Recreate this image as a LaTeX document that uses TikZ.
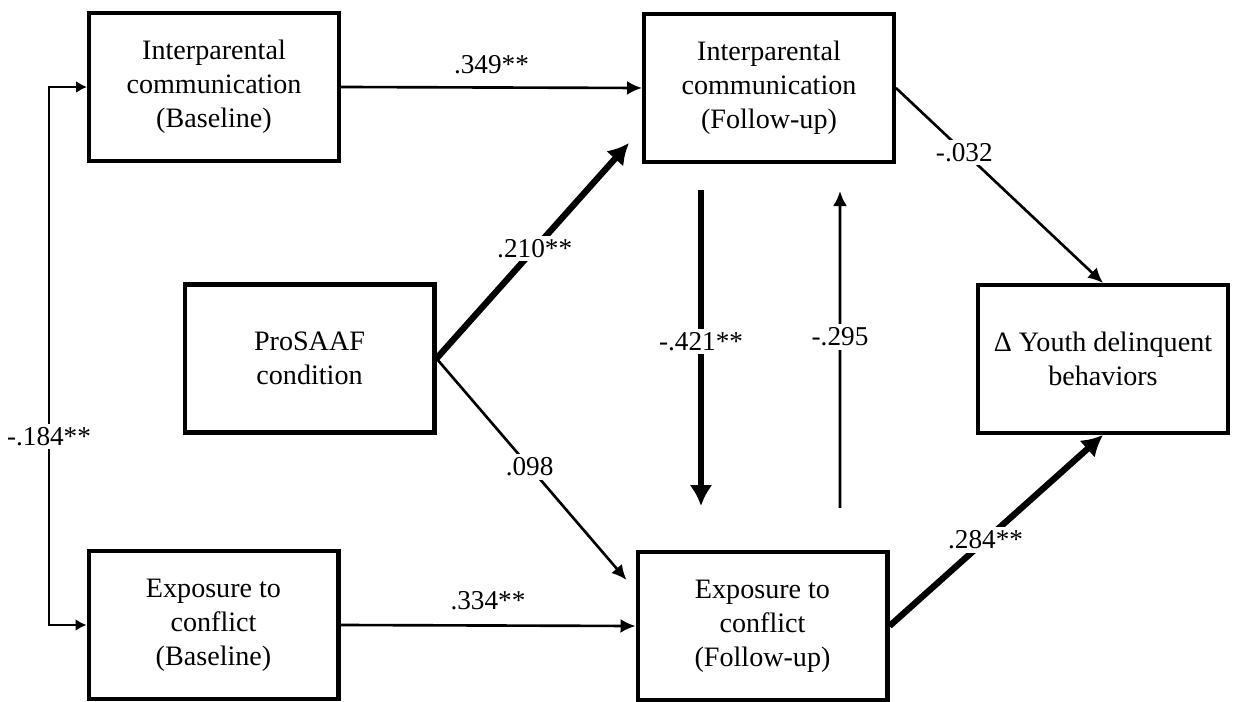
\documentclass[tikz,border=0pt]{standalone}
\usepackage{fontspec}
\setmainfont{Liberation Serif}
\usetikzlibrary{arrows.meta}
\begin{document}
\begin{tikzpicture}[x=0.02cm, y=-0.02cm,
    box/.style={draw, line width=2.3pt, minimum width=5cm, minimum height=2.96cm,
      align=center, inner sep=0pt, font=\fontsize{16}{19.3}\selectfont},
    lbl/.style={fill=white, inner sep=2pt, font=\fontsize{15.5}{18}\selectfont},
    lineA/.style={line width=1.5pt, -{Latex[length=0.3cm,width=0.28cm]}},
    lineB/.style={line width=3.6pt, -{Latex[length=0.42cm,width=0.46cm]}}]
  \useasboundingbox (0,0) rectangle (1233,702);
  \node[box] at (214,87)      (icb) {Interparental\\communication\\(Baseline)};
  \node[box] at (769,88)      (icf) {Interparental\\communication\\(Follow-up)};
  \node[box] at (309.5,358.5) (pro) {ProSAAF\\condition};
  \node[box] at (1103,359)    (dyd) {Δ Youth delinquent\\behaviors};
  \node[box] at (213.5,625)   (ecb) {Exposure to\\conflict\\(Baseline)};
  \node[box] at (762.5,626)   (ecf) {Exposure to\\conflict\\(Follow-up)};
  \coordinate (bend) at (49,87);
  \draw[line width=1.5pt, {Latex[length=0.22cm,width=0.24cm]}-{Latex[length=0.22cm,width=0.24cm]}]
    (icb.west) -- (bend) |- (ecb.west) node[lbl, pos=0.325] {-.184**};
  \draw[lineA] (icb.east) -- (icf.west) node[lbl, midway, above=5pt] {.349**};
  \draw[lineA] (ecb.east) -- (ecf.west) node[lbl, midway, above=6pt] {.334**};
  \draw[lineB] (pro.east) -- ([shift={(-13,-21)}]icf.south west) node[lbl, pos=0.51] {.210**};
  \draw[lineA] (pro.east) -- ([shift={(-9,30)}]ecf.north west) node[lbl, pos=0.49] {.098};
  \draw[lineB] ([shift={(-68,26)}]icf.south) -- ([shift={(-61.5,-44)}]ecf.north) node[lbl, pos=0.48] {-.421**};
  \draw[lineA] ([shift={(77.5,-42)}]ecf.north) -- ([shift={(71,27)}]icf.south) node[lbl, pos=0.54] {-.295};
  \draw[lineA] (icf.east) -- (dyd.north) node[lbl, pos=0.33] {-.032};
  \draw[lineB] (ecf.east) -- (dyd.south) node[lbl, pos=0.45] {.284**};
\end{tikzpicture}
\end{document}
